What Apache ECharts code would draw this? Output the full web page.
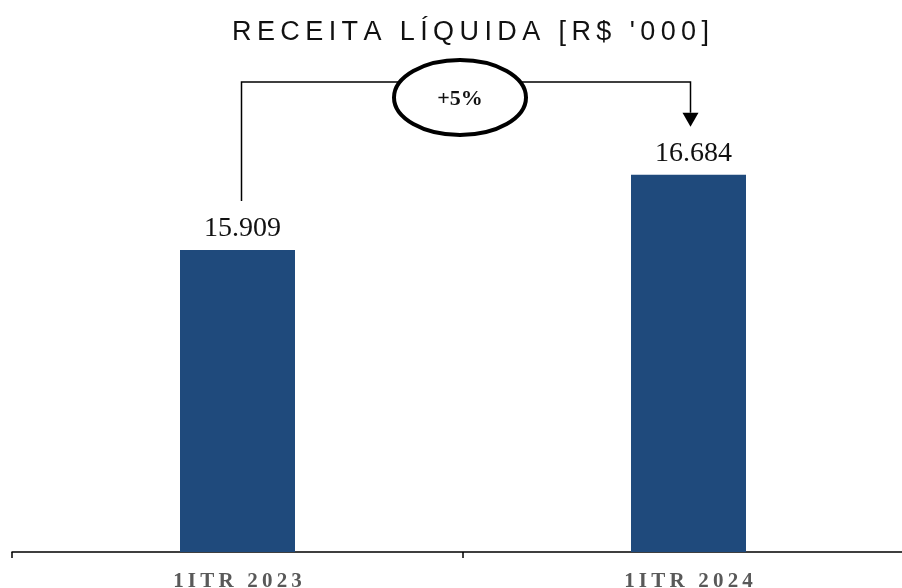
<!DOCTYPE html>
<html>
<head>
<meta charset="utf-8">
<script src="https://cdn.jsdelivr.net/npm/echarts@6/dist/echarts.min.js"></script>
<style>
  html, body { margin: 0; padding: 0; background: #fff; }
  #chart { width: 902px; height: 588px; }
</style>
</head>
<body>
<div id="chart"></div>
<script>
const title = "RECEITA LÍQUIDA [R$ '000]";
const categories = ['1ITR 2023', '1ITR 2024'];
const revenue = [15909, 16684];

// spread letters a bit, zrender has no letter-spacing
const spaced = (s) => s.split('').join('\u2009');
const fmt = (v) => v.toLocaleString('de-DE');

const chart = echarts.init(document.getElementById('chart'));

chart.setOption({
  backgroundColor: '#fff',
  animation: false,
  grid: { left: 12, right: -12, top: 47, bottom: 36, containLabel: false, outerBoundsMode: 'none' },
  xAxis: {
    type: 'category',
    data: categories,
    axisLine: { lineStyle: { color: '#000', width: 1.5 } },
    axisTick: { show: true, length: 6, lineStyle: { color: '#000', width: 1.5 } },
    axisLabel: {
      margin: 19,
      color: '#595959',
      fontFamily: 'Liberation Serif',
      fontWeight: 'bold',
      fontSize: 21,
      formatter: spaced,
    },
  },
  yAxis: {
    type: 'value',
    min: 12800,
    max: 18000,
    show: false,
    splitLine: { show: false },
  },
  series: [
    {
      type: 'bar',
      data: revenue,
      barWidth: 115,
      itemStyle: { color: '#1F4A7C' },
      label: {
        show: true,
        position: 'top',
        distance: 7,
        offset: [5, 0],
        color: '#111',
        fontFamily: 'Liberation Serif',
        fontSize: 28,
        formatter: (p) => fmt(p.value),
      },
    },
  ],
});

// growth bracket between the two bars
const p1 = chart.convertToPixel({ gridIndex: 0 }, [categories[0], revenue[0]]);
const p2 = chart.convertToPixel({ gridIndex: 0 }, [categories[1], revenue[1]]);
const x1 = p1[0] + 4;
const x2 = p2[0] + 2;
const yTop = 82;
const growth = Math.round((revenue[1] / revenue[0] - 1) * 100);
const midX = 460;

chart.setOption({
  graphic: [
    {
      type: 'text',
      left: 471 - 239,
      top: 19,
      style: {
        text: spaced(title),
        fontFamily: 'Liberation Sans',
        fontSize: 27,
        fill: '#111',
      },
    },
    {
      type: 'polyline',
      shape: { points: [[x1, p1[1] - 49], [x1, yTop], [x2, yTop], [x2, p2[1] - 62]] },
      style: { stroke: '#000', lineWidth: 1.5, fill: null },
    },
    {
      type: 'polygon',
      shape: { points: [[x2 - 8, p2[1] - 62], [x2 + 8, p2[1] - 62], [x2, p2[1] - 48]] },
      style: { fill: '#000' },
    },
    {
      type: 'ellipse',
      shape: { cx: midX, cy: 97.5, rx: 66, ry: 37.5 },
      style: { fill: '#fff', stroke: '#000', lineWidth: 4 },
      z: 10,
    },
    {
      type: 'text',
      x: midX,
      y: 99,
      z: 11,
      style: {
        text: '+' + growth + '%',
        align: 'center',
        verticalAlign: 'middle',
        fontFamily: 'Liberation Serif',
        fontWeight: 'bold',
        fontSize: 22,
        fill: '#111',
      },
    },
  ],
});
</script>
</body>
</html>
